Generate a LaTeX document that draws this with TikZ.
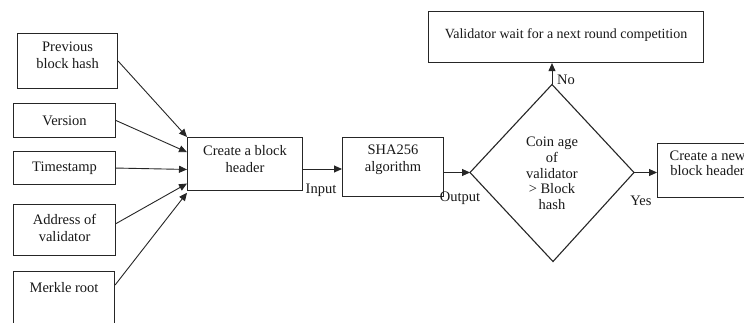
\documentclass[tikz,border=0pt]{standalone}
\usepackage{fontspec}
\setmainfont{Liberation Serif}
\usetikzlibrary{arrows.meta,calc}
\begin{document}
\begin{tikzpicture}[x=1pt,y=-1pt,
  box/.style={draw=black!85, line width=1.1pt, anchor=north west, inner sep=0pt},
  txt/.style={align=center, font=\fontsize{14.5}{17}\selectfont, inner sep=0pt, text=black!90},
  lbl/.style={font=\fontsize{14.5}{17}\selectfont, inner sep=0pt, text=black!90},
  arr/.style={draw=black!85, line width=0.9pt, -{Triangle[length=8pt,width=7pt]}},
]
\useasboundingbox (0,0) rectangle (744,323);
\fill[white] (0,0) rectangle (744,323);

% input fields
\node[box, minimum width=100pt, minimum height=55pt] (prev) at (17,33) {};
\node[box, minimum width=102pt, minimum height=34pt] (ver) at (13,103) {};
\node[box, minimum width=102pt, minimum height=33pt] (ts) at (13,151) {};
\node[box, minimum width=102pt, minimum height=51pt] (addr) at (13,204) {};
\node[box, minimum width=101pt, minimum height=70pt] (mrk) at (13,271) {};

\node[txt] (prevt) at ($(prev.center)+(0,-6)$) {Previous\\block hash};
\node[txt] (vert) at (ver.center) {Version};
\node[txt] (tst) at (ts.center) {Timestamp};
\node[txt] (addrt) at ($(addr.center)+(0,-2)$) {Address of\\validator};
\node[txt] (mrkt) at ($(mrk.north)+(0,17)$) {Merkle root};

% processing chain
\node[box, minimum width=115pt, minimum height=53pt] (hdr) at (187,137) {};
\node[txt] (hdrt) at ($(hdr.center)+(0,-5)$) {Create a block\\header};
\node[box, minimum width=101pt, minimum height=59pt] (sha) at (342,137) {};
\node[txt] (shat) at ($(sha.center)+(0,-7.5)$) {SHA256\\algorithm};

% decision
\coordinate (dtop) at (552,84.5);
\coordinate (dleft) at (470,172.5);
\coordinate (dright) at (634,172.5);
\coordinate (dbot) at (553,261.5);
\draw[draw=black!85, line width=1.1pt] (dtop) -- (dright) -- (dbot) -- (dleft) -- cycle;
\node[txt, font=\fontsize{14.5}{15.75}\selectfont] (dtxt) at (552,173.5) {Coin age\\of\\validator\\> Block\\hash};

% outcomes
\node[box, minimum width=275pt, minimum height=51pt] (wait) at (428,11) {};
\node[txt, font=\fontsize{14}{17}\selectfont] (waitt) at ($(wait.center)+(0,-1.5)$) {Validator wait for a next round competition};
\node[box, minimum width=102pt, minimum height=54pt] (new) at (657,143) {};
\node[txt, font=\fontsize{14.5}{15.5}\selectfont] (newt) at ($(new.center)+(-1,-7.5)$) {Create a new\\block header};

% connectors into the header
\draw[arr] (prev.east) -- (hdr.north west);
\draw[arr] (ver.east) -- ($(hdr.north west)!0.28!(hdr.south west)$);
\draw[arr] (ts.east) -- ($(hdr.north west)!0.6!(hdr.south west)$);
\draw[arr] ($(addr.east)+(0,-6.5)$) -- ($(hdr.north west)!0.86!(hdr.south west)$);
\draw[arr] ($(mrk.north east)+(0,14)$) -- ($(hdr.north west)!1.03!(hdr.south west)$);

% main flow
\coordinate (hout) at ($(hdr.north east)+(0,32)$);
\draw[arr] (hout) -- (hout -| sha.west);
\draw[arr] (sha.east |- dleft) -- (dleft);
\draw[arr] (dright) -- (dright -| new.west);
\draw[arr] (dtop) -- (dtop |- wait.south);

% connector labels
\node[lbl] (lin) at (321,190) {Input};
\node[lbl] (lout) at (460,198) {Output};
\node[lbl] (lyes) at (641,201) {Yes};
\node[lbl] (lno) at (566,80) {No};
\end{tikzpicture}
\end{document}
